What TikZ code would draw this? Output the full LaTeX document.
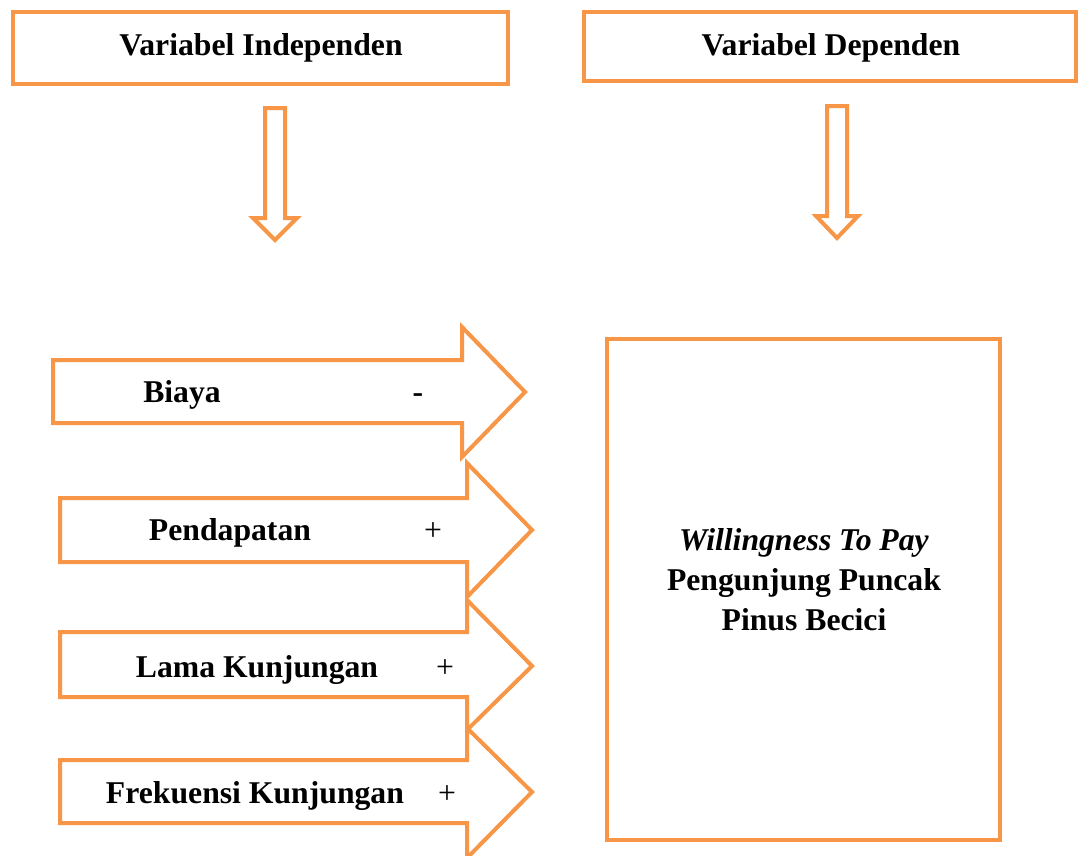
\documentclass[tikz,border=0pt]{standalone}
\usepackage{fontspec}
\setmainfont{Liberation Serif}
\definecolor{acc}{HTML}{F79646}
\begin{document}
\begin{tikzpicture}[x=1pt,y=-1pt,
  frame/.style={draw=acc,line width=4pt,line join=miter},
  arrowshape/.style={draw=acc,line width=4pt,line join=miter,fill=white},
  lbl/.style={font=\fontsize{31.7}{40}\selectfont\bfseries,anchor=base,inner sep=0pt},
  sgn/.style={font=\fontsize{31.7}{40}\selectfont,anchor=base,inner sep=0pt}]
\useasboundingbox (0,0) rectangle (1086,855);
% top boxes
\draw[frame] (13,12) rectangle (508,84);
\draw[frame] (584,12) rectangle (1076,81);
\node[lbl] (indep) at (261,55) {Variabel Independen};
\node[lbl] (dep) at (831,55) {Variabel Dependen};
% down arrows
\draw[arrowshape] (265,108) -- (285,108) -- (285,218) -- (297,218) -- (275,240) -- (253,218) -- (265,218) -- cycle;
\draw[arrowshape] (827,106) -- (847,106) -- (847,216) -- (858,216) -- (837,238) -- (816,216) -- (827,216) -- cycle;
% block arrows
\draw[arrowshape] (53,360) -- (462,360) -- (462,327) -- (525,392) -- (462,457) -- (462,423) -- (53,423) -- cycle;
\draw[arrowshape] (60,498) -- (467,498) -- (467,463) -- (532,530) -- (467,597) -- (467,562) -- (60,562) -- cycle;
\draw[arrowshape] (60,632) -- (467,632) -- (467,600) -- (532,666) -- (467,730) -- (467,697) -- (60,697) -- cycle;
\draw[arrowshape] (60,760) -- (467,760) -- (467,728) -- (532,792) -- (467,858) -- (467,823) -- (60,823) -- cycle;
\node[lbl] (biaya) at (182,402) {Biaya};
\node[lbl] (sb) at (418,402) {-};
\node[lbl] (pend) at (230,540) {Pendapatan};
\node[sgn] (sp) at (433,540) {+};
\node[lbl] (lama) at (257,677) {Lama Kunjungan};
\node[sgn] (sl) at (445,677) {+};
\node[lbl] (frek) at (255,803) {Frekuensi Kunjungan};
\node[sgn] (sf) at (447,803) {+};
% right box
\draw[frame] (607,339) rectangle (1000,840);
\node[lbl,font=\fontsize{31.7}{40}\selectfont\bfseries\itshape] (wtp) at (804,550) {Willingness To Pay};
\node[lbl] (peng) at (804,590) {Pengunjung Puncak};
\node[lbl] (pinus) at (804,630) {Pinus Becici};
\end{tikzpicture}
\end{document}
